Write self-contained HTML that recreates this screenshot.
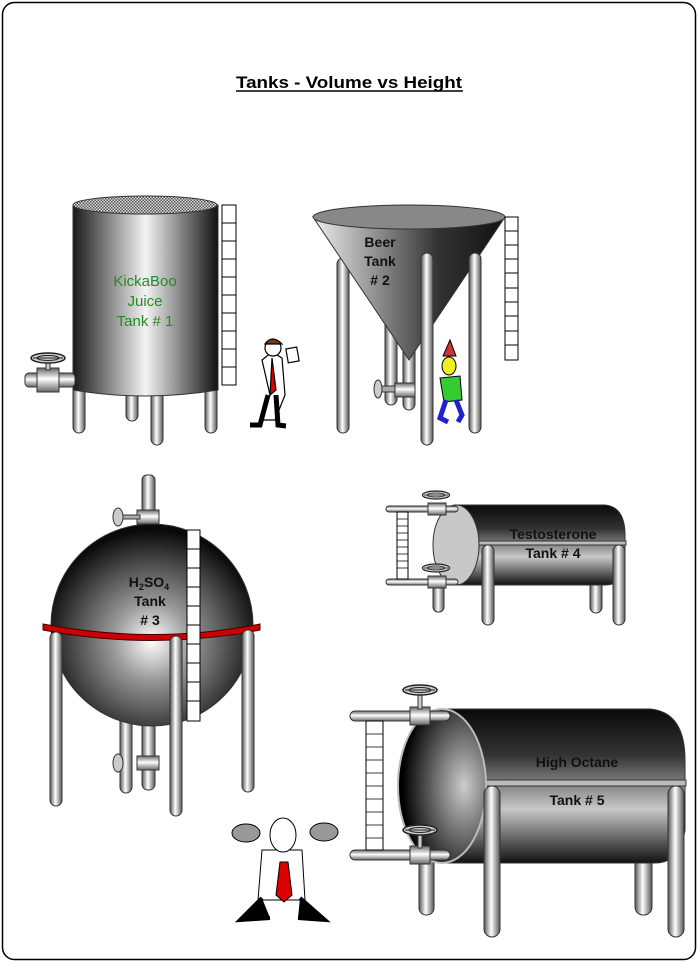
<!DOCTYPE html>
<html><head><style>html,body{margin:0;padding:0;background:#fff}svg{display:block}</style></head><body>
<svg width="699" height="963" viewBox="0 0 699 963" xmlns="http://www.w3.org/2000/svg" font-family="Liberation Sans, Arial, sans-serif">
<defs>
<linearGradient id="cyl" x1="0" x2="1" y1="0" y2="0"><stop offset="0" stop-color="#1a1a1a"/><stop offset="0.5" stop-color="#f4f4f4"/><stop offset="1" stop-color="#111"/></linearGradient>
<linearGradient id="hcyl" x1="0" x2="0" y1="0" y2="1"><stop offset="0" stop-color="#0a0a0a"/><stop offset="0.3" stop-color="#333"/><stop offset="0.65" stop-color="#c8c8c8"/><stop offset="1" stop-color="#111"/></linearGradient>
<linearGradient id="leg" x1="0" x2="1"><stop offset="0" stop-color="#555"/><stop offset="0.45" stop-color="#fff"/><stop offset="1" stop-color="#555"/></linearGradient>
<linearGradient id="hpipe" x1="0" x2="0" y1="0" y2="1"><stop offset="0" stop-color="#666"/><stop offset="0.45" stop-color="#fff"/><stop offset="1" stop-color="#666"/></linearGradient>
<linearGradient id="cone" x1="0" x2="1"><stop offset="0" stop-color="#eee"/><stop offset="0.65" stop-color="#333"/><stop offset="1" stop-color="#111"/></linearGradient>
<radialGradient id="sph" cx="0.5" cy="0.58" r="0.55"><stop offset="0" stop-color="#fff"/><stop offset="0.35" stop-color="#999"/><stop offset="1" stop-color="#0a0a0a"/></radialGradient>
<radialGradient id="end5" cx="0.75" cy="0.5" r="0.7"><stop offset="0" stop-color="#ccc"/><stop offset="1" stop-color="#000"/></radialGradient>
<pattern id="hatch" width="3" height="3" patternUnits="userSpaceOnUse"><rect width="3" height="3" fill="#ddd"/><rect width="1.5" height="1.5" fill="#555"/><rect x="1.5" y="1.5" width="1.5" height="1.5" fill="#555"/></pattern>
<g id="wheel"><ellipse cx="0" cy="0" rx="17" ry="5" fill="#ccc" stroke="#222" stroke-width="1.5"/><ellipse cx="0" cy="0" rx="11" ry="2.5" fill="none" stroke="#222"/><line x1="-15" y1="0" x2="15" y2="0" stroke="#222"/></g>
</defs>
<rect x="2.5" y="2.5" width="693" height="957" rx="12" fill="#fff" stroke="#000" stroke-width="1.5"/>
<text x="349" y="88" text-anchor="middle" font-size="17" font-weight="bold" textLength="226" lengthAdjust="spacingAndGlyphs">Tanks - Volume vs Height</text>
<line x1="236" y1="91" x2="463" y2="91" stroke="#000" stroke-width="1.5"/>

<!-- Tank 1 -->
<g stroke="#333" stroke-width="1">
<rect x="73" y="385" width="12" height="48" rx="6" fill="url(#leg)"/>
<rect x="126" y="385" width="12" height="36" rx="6" fill="url(#leg)"/>
<rect x="151" y="385" width="12" height="60" rx="6" fill="url(#leg)"/>
<rect x="205" y="385" width="12" height="48" rx="6" fill="url(#leg)"/>
<path d="M73 205 L73 390 Q145 402 218 390 L218 205 Z" fill="url(#cyl)"/>
<ellipse cx="145" cy="205" rx="72" ry="9" fill="url(#hatch)"/>
<rect x="25" y="373" width="50" height="14" rx="4" fill="url(#hpipe)"/>
<rect x="37" y="368" width="22" height="24" fill="url(#hpipe)"/>
<rect x="46" y="360" width="4" height="10" fill="#ccc"/>
</g>
<use href="#wheel" x="48" y="358"/>
<g fill="#fff" stroke="#000"><rect x="222" y="205" width="14" height="180"/></g>
<path d="M222 223H236M222 241H236M222 259H236M222 277H236M222 295H236M222 313H236M222 331H236M222 349H236M222 367H236" stroke="#000"/>
<text font-size="15" fill="#228b22" text-anchor="middle"><tspan x="145" y="286">KickaBoo</tspan><tspan x="145" y="306">Juice</tspan><tspan x="145" y="326">Tank # 1</tspan></text>

<!-- person 1 -->
<g stroke="#000" stroke-width="1.2">
<path d="M262 360 L272 352 L282 358 L285 395 L275 420 L262 420 L270 395 Z" fill="#fff"/>
<path d="M268 395 L260 425 L250 425 M276 395 L278 425 L286 426" fill="none" stroke="#000" stroke-width="5"/>
<path d="M272 358 L276 390 L270 395 Z" fill="#d00"/>
<circle cx="273" cy="348" r="8" fill="#fff"/>
<path d="M265 344 Q272 334 282 344 Z" fill="#7a3b10"/>
<rect x="287" y="348" width="11" height="14" fill="#fff" transform="rotate(-10 292 355)"/>
</g>

<!-- Tank 2 -->
<g stroke="#333">
<rect x="385" y="300" width="12" height="105" rx="6" fill="url(#leg)"/>
<rect x="403" y="330" width="12" height="80" rx="6" fill="url(#leg)"/>
<rect x="337" y="258" width="12" height="175" rx="6" fill="url(#leg)"/>
<path d="M313 217 Q409 230 505 217 L409 360 Z" fill="url(#cone)"/>
<ellipse cx="409" cy="217" rx="96" ry="12" fill="#888"/>
<rect x="421" y="253" width="12" height="192" rx="6" fill="url(#leg)"/>
<rect x="469" y="253" width="12" height="180" rx="6" fill="url(#leg)"/>
<rect x="380" y="386" width="20" height="6" fill="#aaa"/>
<rect x="395" y="383" width="20" height="14" fill="url(#hpipe)"/>
<ellipse cx="378" cy="389" rx="4" ry="9" fill="#ccc"/>
</g>
<rect x="505" y="217" width="13" height="143" fill="#fff" stroke="#000"/>
<path d="M505 231H518M505 245H518M505 259H518M505 273H518M505 288H518M505 302H518M505 316H518M505 331H518M505 345H518" stroke="#000"/>
<text font-size="14" font-weight="bold" fill="#111" text-anchor="middle"><tspan x="380" y="247">Beer</tspan><tspan x="380" y="266">Tank</tspan><tspan x="380" y="285"># 2</tspan></text>
<!-- party guy -->
<g stroke="#000">
<path d="M443 356 L450 340 L456 356 Z" fill="#c33"/>
<ellipse cx="449" cy="366" rx="7" ry="9" fill="#ee2"/>
<path d="M440 378 L460 376 L462 400 L444 402 Z" fill="#3c3"/>
<path d="M446 400 L440 418 L448 422 M456 400 L462 415 L458 422" fill="none" stroke="#22c" stroke-width="5"/>
</g>

<!-- Tank 3 -->
<g stroke="#333">
<rect x="142" y="475" width="13" height="60" rx="5" fill="url(#leg)"/>
<rect x="137" y="510" width="22" height="14" fill="url(#hpipe)"/>
<rect x="120" y="515" width="20" height="4" fill="#aaa"/>
<ellipse cx="118" cy="517" rx="5" ry="9" fill="#ccc"/>
<rect x="120" y="715" width="12" height="78" rx="6" fill="url(#leg)"/>
<rect x="142" y="715" width="13" height="75" rx="6" fill="url(#leg)"/>
<rect x="137" y="756" width="22" height="14" fill="url(#hpipe)"/>
<ellipse cx="118" cy="763" rx="5" ry="9" fill="#ccc"/>
<circle cx="152" cy="625" r="101" fill="url(#sph)"/>
<path d="M43 624 Q152 645 260 624 L260 630 Q152 651 43 630 Z" fill="#c00" stroke="#400"/>
<rect x="50" y="632" width="12" height="174" rx="6" fill="url(#leg)"/>
<rect x="170" y="636" width="12" height="180" rx="6" fill="url(#leg)"/>
<rect x="242" y="630" width="12" height="162" rx="6" fill="url(#leg)"/>
</g>
<rect x="187" y="530" width="13" height="191" fill="#fff" stroke="#000"/>
<path d="M187 549H200M187 568H200M187 587H200M187 606H200M187 625H200M187 644H200M187 663H200M187 682H200M187 701H200" stroke="#000"/>
<text font-size="14" font-weight="bold" fill="#111" text-anchor="middle"><tspan x="149" y="587">H<tspan font-size="9" dy="3">2</tspan><tspan dy="-3">SO</tspan><tspan font-size="9" dy="3">4</tspan></tspan><tspan x="150" y="606">Tank</tspan><tspan x="150" y="625"># 3</tspan></text>
<!-- angry man -->
<g stroke="#000">
<ellipse cx="246" cy="833" rx="14" ry="9" fill="#999"/>
<ellipse cx="324" cy="832" rx="14" ry="9" fill="#999"/>
<path d="M262 850 L302 850 L305 900 L258 900 Z" fill="#fff"/>
<ellipse cx="283" cy="835" rx="13" ry="17" fill="#fff"/>
<path d="M280 862 L288 862 L292 895 L284 902 L276 895 Z" fill="#d00"/>
<path d="M262 898 L240 920 L270 918 M300 898 L325 920 L298 918" fill="#000" stroke-width="4"/>
</g>

<!-- Tank 4 -->
<g stroke="#333">
<rect x="433" y="578" width="11" height="34" rx="5" fill="url(#leg)"/>
<rect x="590" y="578" width="12" height="35" rx="6" fill="url(#leg)"/>
<path d="M455 505 L605 505 Q625 507 625 535 L625 565 Q622 585 605 585 L455 585 Z" fill="url(#hcyl)"/>
<rect x="478" y="541" width="148" height="4" fill="#bbb"/>
<ellipse cx="456" cy="545" rx="23" ry="40" fill="#c8c8c8"/>
<rect x="386" y="506" width="72" height="6" rx="3" fill="url(#hpipe)"/>
<rect x="386" y="579" width="72" height="6" rx="3" fill="url(#hpipe)"/>
<rect x="428" y="503" width="18" height="12" fill="url(#hpipe)"/>
<rect x="428" y="576" width="18" height="12" fill="url(#hpipe)"/>
<rect x="482" y="545" width="12" height="80" rx="6" fill="url(#leg)"/>
<rect x="613" y="545" width="12" height="80" rx="6" fill="url(#leg)"/>
</g>
<use href="#wheel" x="436" y="495" transform="translate(436 495) scale(0.8) translate(-436 -495)"/>
<use href="#wheel" x="436" y="568" transform="translate(436 568) scale(0.8) translate(-436 -568)"/>
<rect x="397" y="512" width="11" height="67" fill="#fff" stroke="#000"/>
<path d="M397 519H408M397 526H408M397 533H408M397 540H408M397 547H408M397 554H408M397 561H408M397 568H408" stroke="#000" stroke-width="0.8"/>
<text font-size="14" font-weight="bold" fill="#111" text-anchor="middle"><tspan x="553" y="539">Testosterone</tspan><tspan x="553" y="558">Tank # 4</tspan></text>

<!-- Tank 5 -->
<g stroke="#333">
<rect x="419" y="850" width="15" height="65" rx="7" fill="url(#leg)"/>
<rect x="635" y="850" width="17" height="65" rx="8" fill="url(#leg)"/>
<path d="M442 709 L650 709 Q685 712 685 760 L685 830 Q680 863 655 863 L442 863 Z" fill="url(#hcyl)"/>
<rect x="484" y="780" width="202" height="6" fill="#bbb"/>
<ellipse cx="442" cy="786" rx="44" ry="77" fill="url(#end5)" stroke="#bbb" stroke-width="2"/>
<rect x="350" y="711" width="100" height="10" rx="5" fill="url(#hpipe)"/>
<rect x="350" y="850" width="100" height="10" rx="5" fill="url(#hpipe)"/>
<rect x="410" y="707" width="20" height="18" fill="url(#hpipe)"/>
<rect x="410" y="846" width="20" height="18" fill="url(#hpipe)"/>
<rect x="418" y="693" width="4" height="16" fill="#ccc"/>
<rect x="418" y="834" width="4" height="14" fill="#ccc"/>
<rect x="484" y="786" width="16" height="151" rx="8" fill="url(#leg)"/>
<rect x="668" y="786" width="16" height="151" rx="8" fill="url(#leg)"/>
</g>
<use href="#wheel" x="420" y="690"/>
<use href="#wheel" x="420" y="830"/>
<rect x="366" y="721" width="17" height="129" fill="#fff" stroke="#000"/>
<path d="M366 734H383M366 747H383M366 760H383M366 773H383M366 786H383M366 799H383M366 812H383M366 825H383M366 838H383" stroke="#000" stroke-width="0.8"/>
<text font-size="14" font-weight="bold" fill="#111" text-anchor="middle"><tspan x="577" y="767">High Octane</tspan><tspan x="577" y="805">Tank # 5</tspan></text>
</svg>
</body></html>
